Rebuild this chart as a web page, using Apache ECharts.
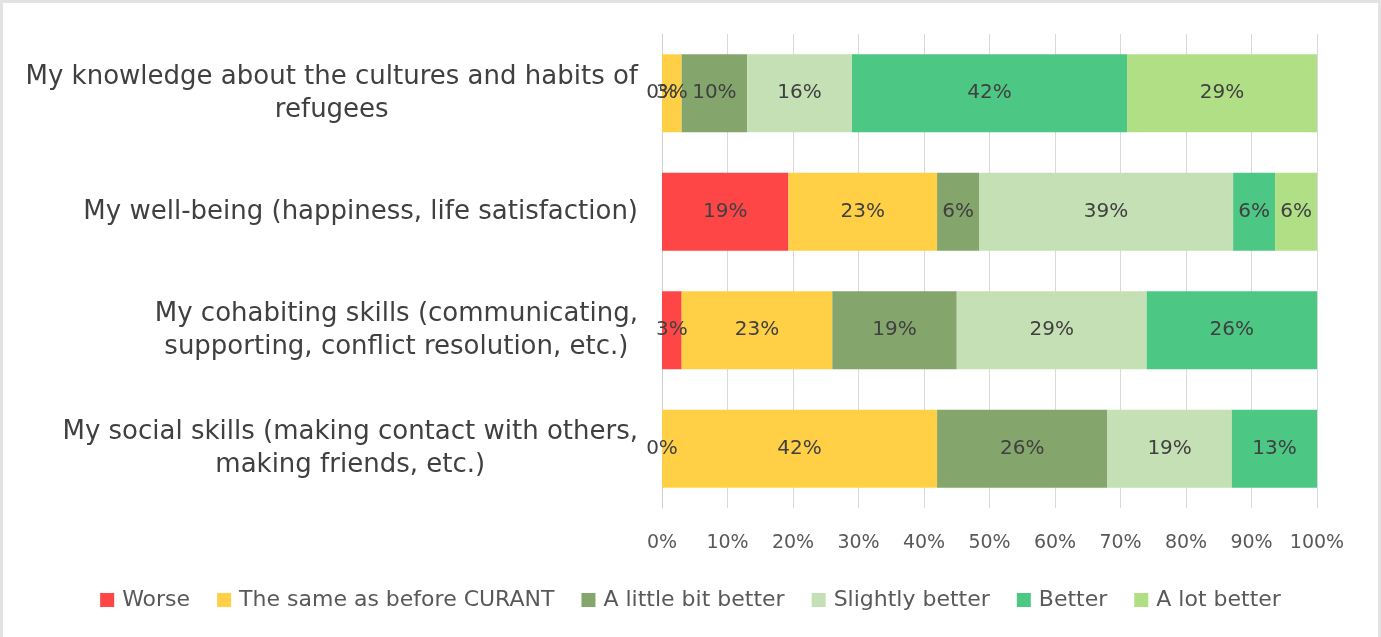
<!DOCTYPE html>
<html>
<head>
<meta charset="utf-8">
<script src="https://cdn.jsdelivr.net/npm/echarts@6/dist/echarts.min.js"></script>
<style>
  html, body { margin: 0; padding: 0; background: #fff; }
  #chart {
    width: 1375px; height: 634px;
    border-top: 3px solid #e3e3e3;
    border-left: 3px solid #e3e3e3;
    border-right: 3px solid #e3e3e3;
  }
</style>
</head>
<body>
<div id="chart"></div>
<script>
const categories = [
  "My knowledge about the cultures and habits of\nrefugees",
  "My well-being (happiness, life satisfaction)",
  "My cohabiting skills (communicating,\nsupporting, conflict resolution, etc.)",
  "My social skills (making contact with others,\nmaking friends, etc.)",
]

const seriesNames = [
  "Worse",
  "The same as before CURANT",
  "A little bit better",
  "Slightly better",
  "Better",
  "A lot better",
]

const colors = ["#ff4646", "#ffd046", "#84a56c", "#c5e0b4", "#4cc784", "#b1df85"]

// percent per category, top to bottom
const worse = [0, 19.3, 3, 0]
const same = [3, 22.7, 23, 42]
const littleBetter = [10, 6.4, 19, 26]
const slightlyBetter = [16, 38.8, 29, 19]
const better = [42, 6.4, 26, 13]
const lotBetter = [29, 6.4, null, null]

const values = [worse, same, littleBetter, slightlyBetter, better, lotBetter]

const xTicks = [0, 10, 20, 30, 40, 50, 60, 70, 80, 90, 100]

const chart = echarts.init(document.getElementById("chart"), null, { renderer: "canvas" })

const option = {
  animation: false,
  textStyle: { fontFamily: "DejaVu Sans" },
  grid: { top: 31, bottom: 129, left: 659, right: 61 },
  legend: {
    bottom: 21,
    left: "center",
    itemWidth: 14,
    itemHeight: 14,
    itemGap: 27,
    icon: "rect",
    textStyle: { fontSize: 22, color: "#595959", fontFamily: "DejaVu Sans", padding: [0, 0, 0, 3] },
    data: seriesNames,
  },
  xAxis: {
    type: "value",
    min: 0,
    max: 100,
    interval: 10,
    axisLine: { show: false },
    axisTick: { show: false },
    splitLine: { lineStyle: { color: "#d9d9d9" } },
    axisLabel: {
      margin: 26,
      fontSize: 19,
      color: "#595959",
      formatter: (v) => (xTicks.includes(v) ? v + "%" : ""),
    },
  },
  yAxis: {
    type: "category",
    inverse: true,
    data: categories,
    axisTick: { show: false },
    axisLine: { lineStyle: { color: "#d0d0d0" } },
    axisLabel: {
      margin: 24,
      color: "#404040",
      fontSize: 26,
      lineHeight: 33,
      formatter: (v) => v.split("\n").map((l) => "{c|" + l + "}").join("\n"),
      rich: { c: { align: "center", fontSize: 26, lineHeight: 33, color: "#404040", fontFamily: "DejaVu Sans" } },
    },
  },
  series: seriesNames.map((name, i) => ({
    name,
    type: "bar",
    stack: "total",
    barWidth: "66%",
    itemStyle: { color: colors[i] },
    label: {
      show: true,
      position: "inside",
      fontSize: 20,
      color: "#404040",
      formatter: (p) => (p.value == null ? "" : Math.round(p.value) + "%"),
    },
    data: values[i],
  })),
}

chart.setOption(option)
</script>
</body>
</html>
